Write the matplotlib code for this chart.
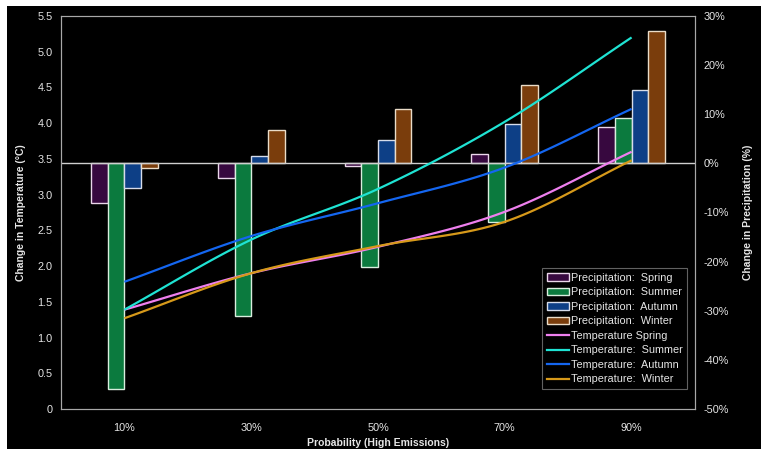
import numpy as np
import matplotlib
matplotlib.use("Agg")
import matplotlib.pyplot as plt
from matplotlib.patches import Rectangle, Patch
from matplotlib.lines import Line2D

plt.rcParams['font.family'] = ['Liberation Sans', 'DejaVu Sans']

# probabilities along the x axis
categories = ['10%', '30%', '50%', '70%', '90%']

# precipitation change (%) by season
precip_spring = [-8, -3, -0.5, 2, 7.5]
precip_summer = [-46, -31, -21, -12, 9.3]
precip_autumn = [-5, 1.5, 4.7, 8, 15]
precip_winter = [-1, 6.7, 11, 16, 27]

# temperature change (deg C) by season
temp_spring = [1.39, 1.9, 2.27, 2.76, 3.6]
temp_summer = [1.39, 2.37, 3.08, 4.02, 5.2]
temp_autumn = [1.78, 2.42, 2.88, 3.38, 4.2]
temp_winter = [1.27, 1.9, 2.28, 2.62, 3.48]

bar_fill = ['#37083f', '#0b7a3e', '#0d3f86', '#7a3d0c']
bar_edge = ['#ead6ea', '#d8eede', '#d6dcea', '#eadcc8']
line_col = ['#ee7fee', '#1fe3d3', '#1466f0', '#d6991a']

precip = [precip_spring, precip_summer, precip_autumn, precip_winter]
temps = [temp_spring, temp_summer, temp_autumn, temp_winter]
precip_labels = ['Precipitation:  Spring', 'Precipitation:  Summer',
                 'Precipitation:  Autumn', 'Precipitation:  Winter']
temp_labels = ['Temperature Spring', 'Temperature:  Summer',
               'Temperature:  Autumn', 'Temperature:  Winter']


def smooth(x, y, n=30):
    # catmull-rom style smoothing between the data points
    x = np.asarray(x, float)
    y = np.asarray(y, float)
    px = np.concatenate([[2 * x[0] - x[1]], x, [2 * x[-1] - x[-2]]])
    py = np.concatenate([[2 * y[0] - y[1]], y, [2 * y[-1] - y[-2]]])
    xs, ys = [], []
    t = np.linspace(0, 1, n)
    for i in range(1, len(px) - 2):
        for p, out in ((px, xs), (py, ys)):
            p0, p1, p2, p3 = p[i - 1], p[i], p[i + 1], p[i + 2]
            seg = 0.5 * ((2 * p1) + (-p0 + p2) * t +
                         (2 * p0 - 5 * p1 + 4 * p2 - p3) * t**2 +
                         (-p0 + 3 * p1 - 3 * p2 + p3) * t**3)
            out.extend(seg)
    return np.array(xs), np.array(ys)


fig = plt.figure(figsize=(7.61, 4.5), dpi=100, facecolor='white')
fig.patches.append(Rectangle((7 / 761, 1 - 449 / 450), 1, 443 / 450,
                             transform=fig.transFigure, facecolor='black',
                             edgecolor='none', zorder=0))

ax = fig.add_axes([61 / 761, 1 - 409 / 450, 634 / 761, 393 / 450])
ax2 = ax.twinx()
ax.set_zorder(2)
ax2.set_zorder(1)
ax.patch.set_visible(False)
ax2.patch.set_facecolor('black')

x = np.arange(len(categories))
w = 0.1316
offsets = [-1.5, -0.5, 0.5, 1.5]
for vals, fc, ec, off in zip(precip, bar_fill, bar_edge, offsets):
    ax2.bar(x + off * w, vals, width=w, color=fc, edgecolor=ec, lw=1.0,
            zorder=2)
ax2.axhline(0, color='#cfcfcf', lw=1.0, zorder=3)

for vals, c in zip(temps, line_col):
    sx, sy = smooth(x, vals)
    ax.plot(sx, sy, color=c, lw=1.6, solid_capstyle='butt')

ax.set_xlim(-0.5, 4.5)
ax.set_ylim(0, 5.5)
ax2.set_ylim(-50, 30)
ax.set_xticks(x)
ax.set_xticklabels(categories)
ax.set_yticks(np.arange(0, 5.51, 0.5))
ax.set_yticklabels(['0'] + [f'{v:.1f}' for v in np.arange(0.5, 5.51, 0.5)])
ax2.set_yticks(np.arange(-50, 31, 10))
ax2.set_yticklabels([f'{v}%' for v in range(-50, 31, 10)])

tc = '#e6e6e6'
ax.tick_params(axis='x', length=0, pad=10, labelsize=7.8, colors=tc)
ax.tick_params(axis='y', length=0, pad=6, labelsize=7.8, colors=tc)
ax2.tick_params(axis='y', length=0, pad=6, labelsize=7.8, colors=tc)
for a in (ax, ax2):
    for s in a.spines.values():
        s.set_color('#a8a8a8')
        s.set_linewidth(0.8)

ax.set_xlabel('Probability (High Emissions)', fontsize=7.5,
              fontweight='bold', color=tc, labelpad=4)
ax.set_ylabel('Change in Temperature (°C)', fontsize=7.5,
              fontweight='bold', color=tc, labelpad=8)
ax2.set_ylabel('Change in Precipitation (%)', fontsize=7.5,
               fontweight='bold', color=tc, labelpad=10)

handles = [Patch(facecolor=fc, edgecolor=ec, lw=1.0)
           for fc, ec in zip(bar_fill, bar_edge)]
handles += [Line2D([0], [0], color=c, lw=1.6) for c in line_col]
leg = ax.legend(handles, precip_labels + temp_labels, loc='lower right',
                bbox_to_anchor=(0.988, 0.05), fontsize=7.8, frameon=True,
                facecolor='black', edgecolor='#7a7a7a', fancybox=False,
                labelspacing=0.42, handlelength=2.0, handleheight=0.7,
                handletextpad=0.2, borderpad=0.45, borderaxespad=0)
leg.get_frame().set_linewidth(0.8)
for t in leg.get_texts():
    t.set_color(tc)

fig.savefig('out.png', dpi=100, facecolor=fig.get_facecolor())
